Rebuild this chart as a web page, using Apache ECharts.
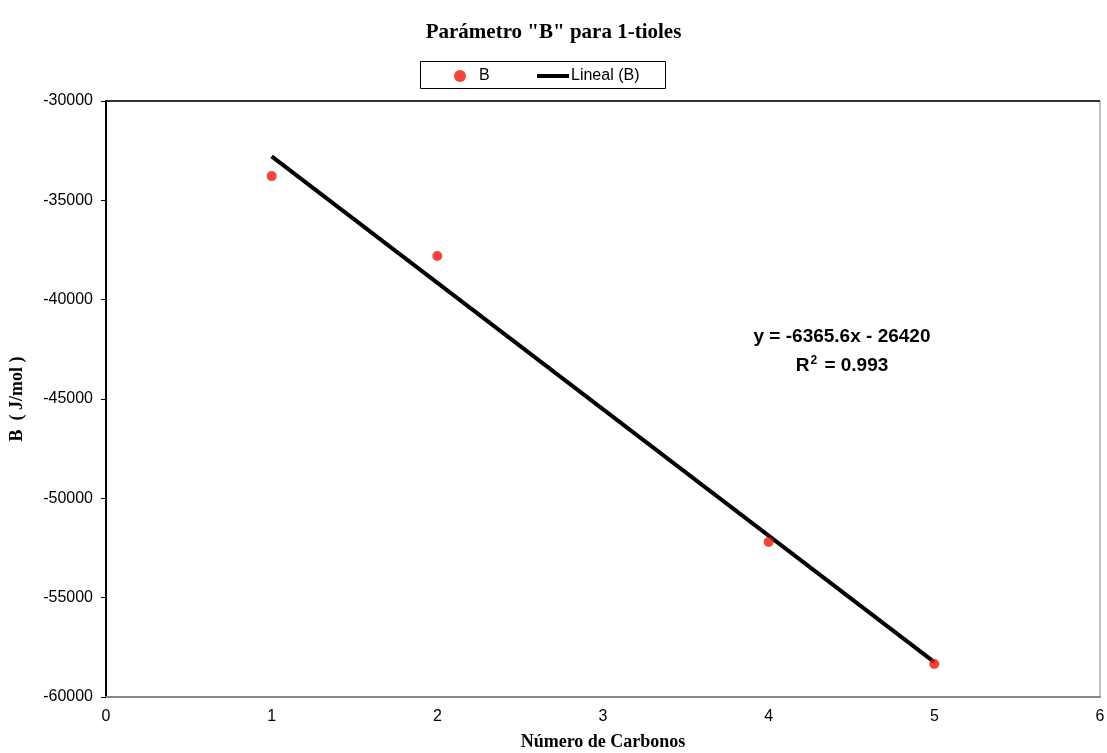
<!DOCTYPE html>
<html>
<head>
<meta charset="utf-8">
<script src="https://cdn.jsdelivr.net/npm/echarts@6/dist/echarts.min.js"></script>
<style>html,body{margin:0;padding:0;background:#fff}#c{width:1107px;height:753px}</style>
</head>
<body>
<div id="c"></div>
<script>
const carbonos = [1, 2, 4, 5];
const valoresB = [-33780, -37800, -52200, -58340];
const tendenciaX = [1, 5];
const tendenciaY = [-32785.6, -58248];
const titulo = 'Parámetro "B" para 1-tioles';
const ecuacion = 'y = -6365.6x - 26420';
const r2 = '0.993';

const labelFont = { fontFamily: 'Liberation Sans', fontSize: 16, color: '#000' };
const chart = echarts.init(document.getElementById('c'));
chart.setOption({
  backgroundColor: '#fff',
  animation: false,
  title: {
    text: titulo, left: 'center', top: 17,
    textStyle: { fontFamily: 'Liberation Serif', fontWeight: 'bold', fontSize: 21, color: '#000' }
  },
  legend: [
    {
      top: 68, left: 454, padding: 0,
      textStyle: Object.assign({ padding: [0, 0, 0, 8] }, labelFont),
      data: [{ name: 'B', icon: 'circle', itemStyle: { color: '#f5140a' } }],
      itemWidth: 12, itemHeight: 12, itemGap: 0
    },
    {
      top: 68, left: 537, padding: 0,
      textStyle: Object.assign({ padding: [0, 0, 0, -3] }, labelFont),
      data: [{ name: 'Lineal (B)', icon: 'path://M0 0H32V4H0Z', itemStyle: { color: '#000' } }],
      itemWidth: 32, itemHeight: 4, itemGap: 0
    }
  ],
  grid: { left: 106, right: 7, top: 101, bottom: 56, show: true, borderColor: '#888', borderWidth: 1, containLabel: false, outerBoundsMode: 'none' },
  xAxis: [{
    type: 'value', min: 0, max: 6, interval: 1,
    axisLine: { show: true, lineStyle: { color: '#888', width: 2 } },
    axisTick: { show: false },
    splitLine: { show: false },
    axisLabel: Object.assign({ margin: 12 }, labelFont),
    name: 'Número de Carbonos', nameLocation: 'middle', nameGap: 36,
    nameTextStyle: { fontFamily: 'Liberation Serif', fontWeight: 'bold', fontSize: 18, color: '#000' }
  }],
  yAxis: [{
    type: 'value', min: -60000, max: -30000, interval: 5000,
    axisLine: { show: true, lineStyle: { color: '#000', width: 2 } },
    axisTick: { show: true, length: 5, lineStyle: { color: '#000' } },
    splitLine: { show: false },
    axisLabel: Object.assign({ margin: 13, formatter: v => String(v) }, labelFont),
    name: 'B  ( J/mol )', nameLocation: 'middle', nameGap: 80,
    nameTextStyle: { fontFamily: 'Liberation Serif', fontWeight: 'bold', fontSize: 18, color: '#000' }
  }],
  graphic: [
    { type: 'rect', shape: { x: 420.5, y: 61.5, width: 245, height: 27 }, style: { fill: 'none', stroke: '#000', lineWidth: 1 } },
    { type: 'line', shape: { x1: 106, y1: 101, x2: 1100, y2: 101 }, style: { stroke: '#000', lineWidth: 1.5 } },
    {
      type: 'text', x: 842, y: 327,
      style: {
        text: ecuacion, textAlign: 'center',
        font: 'bold 19px "Liberation Sans"', fill: '#000'
      }
    },
    {
      type: 'text', x: 842, y: 355,
      style: {
        text: '{r|R}{s|2}{r| = ' + r2 + '}', textAlign: 'center',
        font: 'bold 19px "Liberation Sans"', fill: '#000',
        rich: {
          r: { font: 'bold 19px "Liberation Sans"', fill: '#000' },
          s: { font: 'bold 12px "Liberation Sans"', fill: '#000', verticalAlign: 'top', padding: [0, 2, 10, 1] }
        }
      }
    }
  ],
  series: [
    {
      name: 'Lineal (B)', type: 'line', symbol: 'none',
      lineStyle: { color: '#000', width: 4 },
      data: tendenciaX.map((x, i) => [x, tendenciaY[i]]), z: 2
    },
    {
      name: 'B', type: 'scatter', symbol: 'circle', symbolSize: 10,
      itemStyle: { color: '#f5140a' },
      data: carbonos.map((x, i) => [x, valoresB[i]]), z: 3
    }
  ]
});
</script>
</body>
</html>
